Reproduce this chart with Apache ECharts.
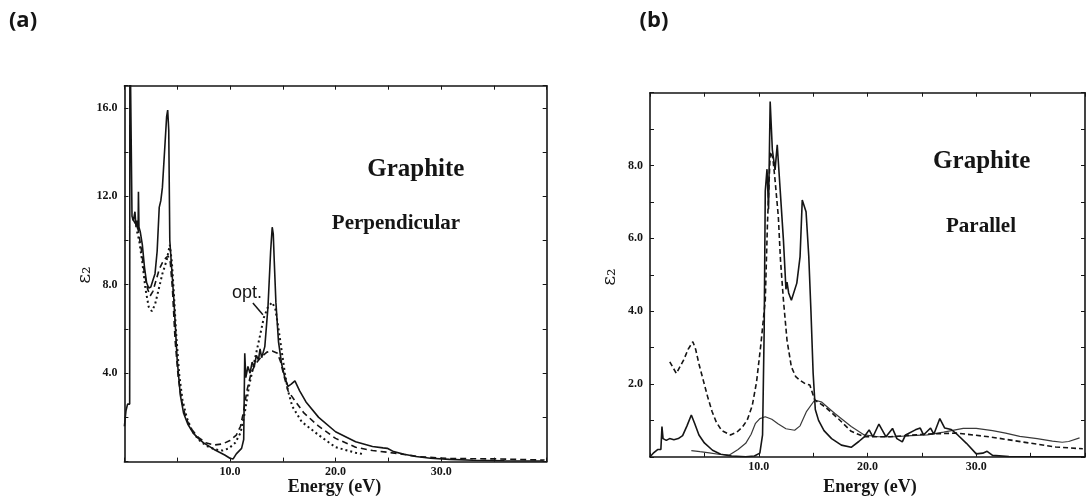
<!DOCTYPE html>
<html>
<head>
<meta charset="utf-8">
<script src="https://cdn.jsdelivr.net/npm/echarts@6/dist/echarts.min.js"></script>
<style>
html,body{margin:0;padding:0;background:#fff;}
#c{width:1088px;height:502px;}
</style>
</head>
<body>
<div id="c"></div>
<script>
// ---------- DATA ----------
// Panel (a): Graphite, perpendicular  [energy eV, eps2]
const aSolid = [[0,1.6],[0.15,2.3],[0.3,2.6],[0.5,2.6],[0.52,20],[0.7,20],[0.72,11.1],[0.85,10.9],[1.0,11.3],[1.1,10.6],[1.2,10.9],[1.3,10.5],[1.33,12.2],[1.38,10.6],[1.5,10.4],[1.7,9.8],[1.9,8.8],[2.1,8.1],[2.3,7.85],[2.5,7.9],[2.7,8.2],[2.9,8.5],[3.1,9.5],[3.3,11.5],[3.45,11.8],[3.6,12.4],[3.8,14.0],[4.0,15.6],[4.1,15.9],[4.2,15.0],[4.3,10.0],[4.5,8.6],[4.7,7.2],[5.0,4.6],[5.3,3.0],[5.6,2.2],[6.0,1.7],[6.5,1.3],[7,1.05],[7.5,0.85],[8,0.7],[8.5,0.55],[9,0.42],[9.5,0.3],[10,0.15],[10.3,0.12],[10.6,0.35],[11.1,0.6],[11.3,1.0],[11.4,4.9],[11.5,3.8],[11.7,4.3],[11.9,4.0],[12.1,4.5],[12.3,4.3],[12.5,4.8],[12.7,4.6],[12.85,5.1],[13.0,4.7],[13.3,5.2],[13.6,7.0],[13.85,9.5],[14.0,10.6],[14.1,10.3],[14.2,9.0],[14.35,7.2],[14.6,5.4],[14.9,4.4],[15.2,3.8],[15.5,3.4],[15.8,3.5],[16.15,3.65],[16.6,3.2],[17.2,2.7],[18.4,2.0],[20,1.35],[21.9,0.9],[23.5,0.68],[24.5,0.62],[24.9,0.6],[25.5,0.45],[26.5,0.33],[27.6,0.23],[29,0.15],[30.8,0.1],[33,0.06],[36,0.04],[39.7,0.03]];
const aDashed = [[0.75,11.0],[1.0,10.8],[1.3,10.5],[1.6,9.6],[1.9,8.5],[2.2,7.8],[2.45,7.5],[2.7,7.7],[3.0,8.2],[3.3,8.7],[3.6,9.0],[3.9,9.2],[4.15,9.3],[4.35,9.0],[4.55,7.8],[4.8,5.5],[5.1,3.8],[5.4,2.8],[5.8,2.0],[6.3,1.5],[7.0,1.1],[7.7,0.85],[8.5,0.75],[9.3,0.8],[10.0,0.95],[10.6,1.2],[11.0,1.6],[11.3,2.3],[11.6,3.2],[12.0,4.0],[12.4,4.4],[12.9,4.7],[13.5,4.95],[14.0,5.0],[14.5,4.9],[14.8,4.5],[15.1,3.9],[15.5,3.2],[16.15,2.75],[17,2.2],[18.4,1.6],[20,1.05],[21.9,0.65],[23.5,0.5],[25,0.42],[26.5,0.32],[28,0.22],[30.8,0.14],[33,0.13],[35.6,0.12],[38,0.09],[39.8,0.07]];
const aDotted = [[1.2,10.4],[1.4,10.0],[1.7,9.0],[2.0,7.8],[2.3,7.0],[2.6,6.8],[2.9,7.1],[3.2,7.7],[3.6,8.5],[4.0,9.1],[4.3,9.8],[4.5,9.0],[4.7,7.5],[4.9,5.8],[5.2,3.9],[5.5,2.8],[5.9,2.0],[6.4,1.4],[7.0,1.0],[7.8,0.7],[8.6,0.55],[9.3,0.5],[9.9,0.6],[10.5,0.85],[11.0,1.3],[11.4,2.2],[11.8,3.4],[12.3,4.5],[12.8,5.6],[13.2,6.5],[13.6,7.0],[14.0,7.2],[14.3,6.9],[14.6,6.0],[14.9,5.0],[15.2,4.0],[15.5,3.2],[15.9,2.5],[16.8,1.8],[18.4,1.2],[20,0.65],[21.9,0.4],[22.5,0.35]];
const aOptLeader = [[12.17,7.17],[13.12,6.64]];

// Panel (b): Graphite, parallel
const bSolid = [[0,0],[0.3,0.1],[0.7,0.2],[1.0,0.2],[1.1,0.83],[1.2,0.5],[1.5,0.45],[1.8,0.5],[2.2,0.47],[2.6,0.5],[3.0,0.58],[3.4,0.85],[3.8,1.15],[4.1,0.92],[4.5,0.6],[5.0,0.38],[5.75,0.18],[6.5,0.07],[7.5,0.02],[8.8,0.0],[9.6,0.02],[10.1,0.1],[10.35,0.6],[10.5,3.5],[10.6,7.3],[10.76,7.9],[10.9,6.8],[11.05,9.76],[11.25,8.43],[11.5,7.88],[11.7,8.57],[11.97,7.33],[12.27,5.95],[12.5,4.6],[12.6,4.8],[12.75,4.5],[13.0,4.3],[13.5,4.77],[13.8,5.5],[14.0,7.05],[14.35,6.73],[14.6,5.5],[14.8,4.0],[15.0,2.3],[15.2,1.3],[15.5,1.0],[16,0.72],[16.7,0.5],[17.6,0.32],[18.5,0.26],[19.2,0.42],[19.7,0.55],[20.15,0.74],[20.5,0.55],[21.05,0.9],[21.7,0.55],[22.3,0.78],[22.7,0.5],[23.2,0.41],[23.5,0.6],[24.4,0.74],[24.85,0.79],[25.15,0.6],[25.8,0.79],[26.1,0.62],[26.65,1.05],[27.1,0.79],[27.7,0.75],[28.3,0.6],[29.1,0.37],[30,0.08],[30.6,0.1],[31.0,0.15],[31.5,0.04],[33,0.01],[40,0.0]];
const bDashed = [[1.82,2.61],[2.42,2.29],[3.1,2.66],[3.5,2.95],[3.94,3.16],[4.2,2.95],[4.5,2.55],[4.9,2.1],[5.3,1.65],[5.7,1.25],[6.1,0.95],[6.6,0.72],[7.4,0.6],[8.0,0.68],[8.5,0.82],[8.94,1.01],[9.4,1.4],[9.8,2.06],[10.2,3.1],[10.6,4.3],[10.8,6.4],[11.06,8.38],[11.3,8.2],[11.5,7.6],[11.8,6.6],[12.0,5.4],[12.27,4.3],[12.6,3.2],[13.0,2.47],[13.4,2.2],[13.8,2.1],[14.3,2.0],[14.7,1.97],[15.15,1.56],[16.06,1.38],[17.3,1.05],[18.5,0.7],[19.7,0.55],[22.1,0.55],[25.15,0.62],[28.2,0.65],[31.2,0.55],[34.2,0.41],[37.3,0.27],[39.8,0.22]];
const bSmooth = [[3.8,0.17],[4.6,0.14],[5.45,0.11],[6.3,0.07],[7.3,0.05],[8.1,0.2],[8.8,0.37],[9.3,0.62],[9.7,0.92],[10.1,1.05],[10.6,1.1],[11.2,1.03],[11.8,0.9],[12.5,0.77],[13.3,0.73],[13.8,0.85],[14.4,1.25],[15.15,1.56],[15.8,1.5],[17,1.19],[18.5,0.83],[19.7,0.6],[21,0.55],[22.5,0.55],[24,0.58],[25.5,0.6],[27,0.68],[28.8,0.78],[30,0.78],[31.5,0.72],[32.7,0.65],[34,0.56],[35.6,0.5],[37,0.43],[37.9,0.4],[38.5,0.42],[39.5,0.52]];

// tick label values to show
const aYLabels = [4, 8, 12, 16];
const bYLabels = [2, 4, 6, 8];
const xLabels = [10, 20, 30];

// ---------- CHART ----------
const chart = echarts.init(document.getElementById('c'), null, {renderer: 'canvas'});
const ink = '#151515';
const serif = '"Liberation Serif","Times New Roman",serif';

function xAx(grid, pos, labels) {
  return {
    type: 'value', gridIndex: grid, position: pos, min: 0, max: 40, interval: 5,
    axisLine: {show: true, onZero: false, lineStyle: {color: ink, width: 1.6}},
    axisTick: {show: true, inside: true, length: 4, lineStyle: {color: ink, width: 1}},
    splitLine: {show: false},
    axisLabel: {show: labels, margin: 4, fontFamily: serif, fontWeight: 'bold', fontSize: 12, color: ink,
      formatter: v => xLabels.includes(v) ? v.toFixed(1) : ''}
  };
}
function yAx(grid, pos, max, interval, labelsArr, labels) {
  return {
    type: 'value', gridIndex: grid, position: pos, min: 0, max: max, interval: interval,
    axisLine: {show: true, onZero: false, lineStyle: {color: ink, width: 1.6}},
    axisTick: {show: true, inside: true, length: 4, lineStyle: {color: ink, width: 1}},
    splitLine: {show: false},
    axisLabel: {show: labels, margin: 7, fontFamily: serif, fontWeight: 'bold', fontSize: 12, color: ink,
      formatter: v => labelsArr.includes(v) ? v.toFixed(1) : ''}
  };
}
function line(data, xi, yi, type, width, color) {
  return {
    type: 'line', xAxisIndex: xi, yAxisIndex: yi, data: data, showSymbol: false, symbol: 'none',
    clip: true, smooth: false, silent: true,
    lineStyle: {color: color || ink, width: width, type: type}
  };
}
function txt(x, y, s, font, extra) {
  return Object.assign({
    type: 'text', x: x, y: y, silent: true,
    style: {text: s, font: font, fill: ink, textAlign: 'center', textVerticalAlign: 'middle'}
  }, extra || {});
}

const dotted = line(aDotted, 0, 0, [2, 3], 2);
dotted.markLine = {
  silent: true, symbol: ['none', 'none'], label: {show: false},
  lineStyle: {color: ink, width: 1.5, type: 'solid'},
  data: [[{coord: aOptLeader[0]}, {coord: aOptLeader[1]}]]
};

chart.setOption({
  animation: false,
  backgroundColor: '#fff',
  grid: [
    {left: 124.4, right: 541.3, top: 85.7, bottom: 40.4},
    {left: 650, right: -2, top: 92.7, bottom: 45.2}
  ],
  xAxis: [
    xAx(0, 'bottom', true), xAx(0, 'top', false),
    xAx(1, 'bottom', true), xAx(1, 'top', false)
  ],
  yAxis: [
    yAx(0, 'left', 17, 2, aYLabels, true), yAx(0, 'right', 17, 2, aYLabels, false),
    yAx(1, 'left', 10, 1, bYLabels, true), yAx(1, 'right', 10, 1, bYLabels, false)
  ],
  series: [
    line(aSolid, 0, 0, 'solid', 1.6),
    line(aDashed, 0, 0, [6, 4], 1.6),
    dotted,
    line(bSmooth, 2, 2, 'solid', 1.2, '#3a3a3a'),
    line(bDashed, 2, 2, [5, 3], 1.6),
    line(bSolid, 2, 2, 'solid', 1.6)
  ],
  graphic: [
    txt(23, 21, '(a)', 'bold 22px "Open Sans", Lato, sans-serif'),
    txt(654, 21, '(b)', 'bold 22px "Open Sans", Lato, sans-serif'),
    txt(415.8, 170, 'Graphite', 'bold 25px ' + serif),
    txt(396, 224, 'Perpendicular', 'bold 21px ' + serif),
    txt(247, 292.7, 'opt.', '18px "Liberation Sans", Arial, sans-serif'),
    txt(981.7, 161.7, 'Graphite', 'bold 25px ' + serif),
    txt(981, 226.7, 'Parallel', 'bold 21px ' + serif),
    txt(334.5, 487, 'Energy (eV)', 'bold 18px ' + serif),
    txt(870, 487, 'Energy (eV)', 'bold 18px ' + serif),
    txt(85, 275, 'ε₂', '19px "DejaVu Serif", serif', {rotation: Math.PI / 2}),
    txt(610, 277, 'ε₂', '19px "DejaVu Serif", serif', {rotation: Math.PI / 2})
  ]
});
</script>
</body>
</html>
